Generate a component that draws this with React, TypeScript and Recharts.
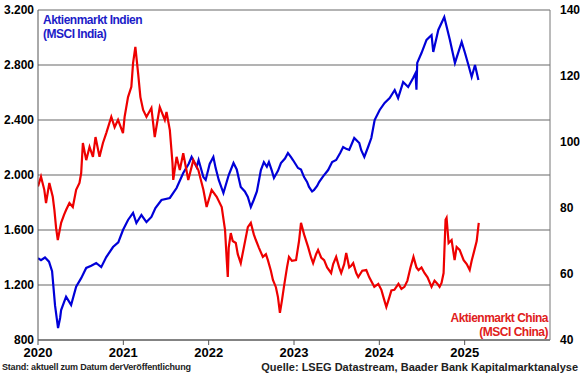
import { LineChart, Line, XAxis, YAxis, CartesianGrid } from 'recharts';

// MSCI India (linke Achse): [Datum als Dezimaljahr, Indexstand]
const india2020 = [
  [2020.0, 1395], [2020.035, 1380], [2020.082, 1400], [2020.129, 1370], [2020.165, 1300],
  [2020.2, 1050], [2020.235, 887], [2020.259, 960], [2020.271, 1018], [2020.329, 1115],
  [2020.388, 1055], [2020.447, 1188], [2020.506, 1250], [2020.565, 1324], [2020.624, 1340],
  [2020.682, 1360], [2020.741, 1330], [2020.8, 1403], [2020.879, 1476], [2020.941, 1510],
];
const india2021 = [
  [2020.996, 1600], [2021.055, 1673], [2021.114, 1724], [2021.153, 1651], [2021.212, 1709],
  [2021.271, 1658], [2021.329, 1695], [2021.376, 1760], [2021.447, 1818], [2021.545, 1833],
  [2021.624, 1905], [2021.702, 2015], [2021.765, 2080], [2021.8, 2131], [2021.859, 2058],
  [2021.882, 2109], [2021.938, 1985], [2021.965, 1964],
];
const india2022 = [
  [2022.012, 2080], [2022.055, 2131], [2022.082, 2050], [2022.118, 1964], [2022.173, 1869],
  [2022.235, 2000], [2022.291, 2087], [2022.329, 2040], [2022.376, 1913], [2022.424, 1880],
  [2022.459, 1840], [2022.494, 1767], [2022.529, 1820], [2022.565, 1880], [2022.612, 2036],
  [2022.647, 2094], [2022.682, 2060], [2022.706, 2094], [2022.741, 2030], [2022.765, 1978],
  [2022.812, 2030], [2022.847, 2087], [2022.894, 2120], [2022.929, 2160], [2022.965, 2130],
  [2022.988, 2109],
];
const india2023 = [
  [2023.047, 2051], [2023.082, 2040], [2023.118, 1985], [2023.153, 1950], [2023.176, 1913],
  [2023.212, 1880], [2023.235, 1891], [2023.271, 1920], [2023.294, 1949], [2023.341, 1990],
  [2023.4, 2036], [2023.447, 2094], [2023.494, 2109], [2023.541, 2160], [2023.576, 2203],
  [2023.612, 2190], [2023.647, 2182], [2023.706, 2269], [2023.765, 2233], [2023.788, 2180],
  [2023.824, 2131], [2023.866, 2200], [2023.906, 2269], [2023.945, 2400],
];
const india2024 = [
  [2024.004, 2473], [2024.062, 2524], [2024.121, 2560], [2024.18, 2618], [2024.22, 2560],
  [2024.279, 2676], [2024.338, 2640], [2024.396, 2705], [2024.424, 2740], [2024.435, 2620],
  [2024.444, 2815], [2024.494, 2887], [2024.553, 2982], [2024.612, 3018], [2024.632, 2895],
  [2024.691, 3055], [2024.761, 3149], [2024.827, 2982], [2024.886, 2815], [2024.965, 2967],
];
const india2025 = [
  [2025.004, 2887], [2025.044, 2800], [2025.082, 2713], [2025.121, 2800], [2025.161, 2691],
];

// MSCI China (rechte Achse)
const china2020 = [
  [2020.0, 86.5], [2020.035, 89.5], [2020.074, 85.5], [2020.094, 81.5], [2020.133, 87.6],
  [2020.173, 83.4], [2020.192, 79.4], [2020.212, 74], [2020.232, 70.3], [2020.271, 75.5],
  [2020.306, 78], [2020.329, 79.4], [2020.368, 81.5], [2020.408, 80.3], [2020.447, 85.5],
  [2020.486, 87.6], [2020.506, 90.6], [2020.526, 99.7], [2020.565, 94.5], [2020.604, 98.5],
  [2020.644, 95.5], [2020.674, 101.5], [2020.721, 95.5], [2020.761, 99.7], [2020.8, 102.7],
  [2020.859, 107.6], [2020.898, 104.5], [2020.938, 106.7], [2020.996, 102.7],
];
const china2021 = [
  [2021.015, 107.6], [2021.055, 113.6], [2021.094, 116.7], [2021.114, 123.9], [2021.141, 128.8],
  [2021.173, 120.9], [2021.2, 113.6], [2021.232, 109.7], [2021.271, 107.6], [2021.329, 110.3],
  [2021.368, 101.5], [2021.427, 110.6], [2021.486, 106.7], [2021.506, 109.1], [2021.545, 103.6],
  [2021.576, 93.6], [2021.585, 88.5], [2021.624, 95.5], [2021.662, 91.5], [2021.702, 96.6],
  [2021.761, 88.5], [2021.82, 94.5], [2021.879, 91.5], [2021.938, 85.5], [2021.976, 80.3],
];
const china2022 = [
  [2022.035, 85.5], [2022.094, 83.4], [2022.153, 80.3], [2022.192, 73.3], [2022.212, 64.2],
  [2022.224, 59.1], [2022.235, 68], [2022.259, 72.4], [2022.282, 70], [2022.318, 69.4],
  [2022.341, 66], [2022.376, 63.3], [2022.412, 68], [2022.459, 74.2], [2022.494, 75.5],
  [2022.529, 72], [2022.553, 70.3], [2022.588, 68], [2022.635, 65.2], [2022.671, 66],
  [2022.694, 64.2], [2022.729, 61], [2022.753, 58.2], [2022.788, 56], [2022.812, 53],
  [2022.835, 48.2], [2022.859, 52], [2022.882, 56.1], [2022.918, 62], [2022.941, 65.2],
  [2022.976, 64],
];
const china2023 = [
  [2023.024, 64.2], [2023.059, 70], [2023.082, 75.5], [2023.118, 72], [2023.165, 68.2],
  [2023.2, 65], [2023.224, 63.3], [2023.259, 66], [2023.282, 67.3], [2023.318, 65],
  [2023.353, 64.2], [2023.388, 62], [2023.435, 60.3], [2023.459, 63], [2023.494, 65.2],
  [2023.529, 62], [2023.553, 60.3], [2023.588, 63], [2023.612, 66.4], [2023.647, 62],
  [2023.671, 62.5], [2023.694, 63.3], [2023.729, 60.3], [2023.753, 59.1], [2023.8, 61],
  [2023.847, 61.2], [2023.882, 59], [2023.941, 56.1], [2023.988, 57],
];
const china2024 = [
  [2024.024, 55.2], [2024.059, 52], [2024.082, 50], [2024.118, 53], [2024.141, 55],
  [2024.176, 55.2], [2024.224, 57], [2024.259, 55.5], [2024.294, 56.1], [2024.329, 58],
  [2024.365, 62], [2024.4, 65.2], [2024.435, 62], [2024.459, 61.2], [2024.494, 62],
  [2024.529, 60.3], [2024.565, 59], [2024.612, 56.1], [2024.647, 58], [2024.682, 57],
  [2024.706, 56.1], [2024.729, 57.3], [2024.753, 60.3], [2024.776, 76.4], [2024.788, 77],
  [2024.812, 69.4], [2024.847, 70.3], [2024.882, 64.2], [2024.906, 68.2], [2024.941, 67.3],
  [2024.988, 64.2],
];
const china2025 = [
  [2025.024, 63], [2025.059, 61.2], [2025.082, 64], [2025.106, 66.4], [2025.141, 70],
  [2025.165, 75.5],
];

const yearTicks = [2020, 2021, 2022, 2023, 2024, 2025];
const leftTicks = [800, 1200, 1600, 2000, 2400, 2800, 3200];
const rightTicks = [40, 60, 80, 100, 120, 140];

const toPoints = (rows: number[][]) => rows.map(([t, v]) => ({ t, v }));
const indiaData = toPoints([...india2020, ...india2021, ...india2022, ...india2023, ...india2024, ...india2025]);
const chinaData = toPoints([...china2020, ...china2021, ...china2022, ...china2023, ...china2024, ...china2025]);

const font = '"Liberation Sans", Arial, sans-serif';
const tickStyle = { fill: '#000', fontSize: 12, fontWeight: 'bold' as const, fontFamily: font };

// 3200 -> "3.200"
const deNumber = (v: number) =>
  v >= 1000 ? `${Math.floor(v / 1000)}.${String(v % 1000).padStart(3, '0')}` : String(v);

export default function App() {
  return (
    <div style={{ position: 'absolute', left: 0, top: 0, width: 580, height: 375, background: '#fff', fontFamily: font }}>
      <LineChart width={580} height={375} margin={{ top: 10, right: 0, bottom: 5, left: 0 }}>
        <CartesianGrid yAxisId="left" vertical={false} stroke="#9a9a9a" strokeWidth={1.5} />
        <XAxis
          dataKey="t"
          type="number"
          domain={[2020, 2026]}
          ticks={yearTicks}
          height={30}
          tickSize={5}
          tickMargin={3}
          stroke="#555"
          tick={{ ...tickStyle, fontSize: 13 }}
          allowDataOverflow
        />
        <YAxis
          yAxisId="left"
          domain={[800, 3200]}
          ticks={leftTicks}
          width={38}
          tickLine={false}
          tickSize={0}
          tickMargin={4}
          stroke="#555"
          tick={tickStyle}
          tickFormatter={deNumber}
        />
        <YAxis
          yAxisId="right"
          orientation="right"
          domain={[40, 140]}
          ticks={rightTicks}
          width={30}
          tickLine={false}
          tickSize={0}
          tickMargin={10}
          stroke="#777"
          tick={tickStyle}
        />
        <Line
          yAxisId="left"
          data={indiaData}
          dataKey="v"
          stroke="#0000d8"
          strokeWidth={2.2}
          dot={false}
          type="linear"
          isAnimationActive={false}
        />
        <Line
          yAxisId="right"
          data={chinaData}
          dataKey="v"
          stroke="#ee0000"
          strokeWidth={2.2}
          dot={false}
          type="linear"
          isAnimationActive={false}
        />
      </LineChart>

      <div style={{ position: 'absolute', left: 43, top: 13, color: '#1c1cc8', fontSize: 12, fontWeight: 'bold', lineHeight: '14px', letterSpacing: -0.5 }}>
        Aktienmarkt Indien
        <br />
        (MSCI India)
      </div>
      <div style={{ position: 'absolute', right: 32, top: 311, color: '#e02020', fontSize: 12, fontWeight: 'bold', lineHeight: '14px', letterSpacing: -0.5, textAlign: 'right' }}>
        Aktienmarkt China
        <br />
        (MSCI China)
      </div>
      <div style={{ position: 'absolute', left: 2, top: 362, color: '#222', fontSize: 9, fontWeight: 'bold', letterSpacing: -0.2, whiteSpace: 'nowrap' }}>
        Stand: aktuell zum Datum derVeröffentlichung
      </div>
      <div style={{ position: 'absolute', right: 2, top: 361, color: '#222', fontSize: 11, fontWeight: 'bold', whiteSpace: 'nowrap' }}>
        Quelle: LSEG Datastream, Baader Bank Kapitalmarktanalyse
      </div>
    </div>
  );
}
